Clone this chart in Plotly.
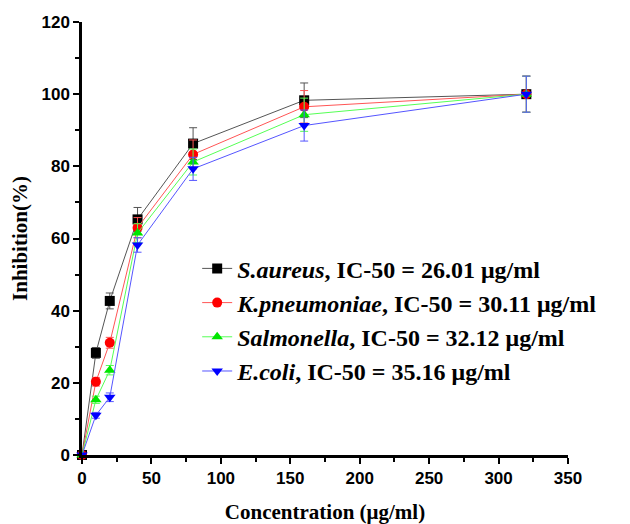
import plotly.graph_objects as go

conc = [0, 10, 20, 40, 80, 160, 320]
s_aureus = [0, 28.3, 42.7, 65.3, 86.3, 98.3, 100]
k_pneu = [0, 20.3, 31.1, 63.0, 83.3, 96.5, 100]
salmonella = [0, 15.3, 23.5, 61.5, 81.2, 94.3, 100]
e_coli = [0, 11.0, 16.0, 58.2, 79.3, 91.3, 100]

err_s = [0, 1.5, 2.2, 3.3, 4.4, 4.8, 5.0]
err_k = [0, 1.2, 1.5, 2.8, 4.0, 4.5, 5.0]
err_sal = [0, 1.0, 1.3, 2.6, 3.6, 4.6, 5.0]
err_e = [0, 0.8, 1.2, 2.0, 3.2, 4.3, 5.0]

names = ["<i>S.aureus</i>, IC-50 = 26.01 μg/ml",
         "<i>K.pneumoniae</i>, IC-50 = 30.11 μg/ml",
         "<i>Salmonella</i>, IC-50 = 32.12 μg/ml",
         "<i>E.coli</i>, IC-50 = 35.16 μg/ml"]
series = [s_aureus, k_pneu, salmonella, e_coli]
errs = [err_s, err_k, err_sal, err_e]
colors = ["#000000", "#ff0000", "#00e600", "#0000ff"]
linecolors = ["#555555", "#ff5555", "#55ff55", "#5555ff"]
symbols = ["square", "circle", "triangle-up", "triangle-down"]

fig = go.Figure()
for n, y, e, c, lc, s in zip(names, series, errs, colors, linecolors, symbols):
    fig.add_trace(go.Scatter(
        x=conc, y=y, name=n, mode="lines+markers",
        line=dict(color=lc, width=1),
        marker=dict(symbol=s, size=10, color=c),
        error_y=dict(type="data", array=e, color=lc, thickness=1, width=4),
        cliponaxis=False,
    ))

axis_font = dict(family="Liberation Sans", size=17, color="black", weight="bold")
title_font = dict(family="Liberation Serif", size=21, color="black", weight="bold")

fig.update_layout(
    width=622, height=516,
    margin=dict(l=74, r=62, t=14, b=69),
    plot_bgcolor="white", paper_bgcolor="white",
    showlegend=True,
    legend=dict(x=0.237, y=0.482, xanchor="left", yanchor="top",
                font=dict(family="Liberation Serif", size=24, color="black", weight="bold"),
                bgcolor="rgba(0,0,0,0)"),
    xaxis=dict(range=[0, 350], tickvals=[0, 50, 100, 150, 200, 250, 300, 350],
               showgrid=False, zeroline=False, showline=True, linecolor="black", linewidth=2.5,
               ticks="outside", ticklen=6, tickwidth=2, tickcolor="black",
               minor=dict(dtick=25, ticks="outside", ticklen=4, tickwidth=2, tickcolor="black", showgrid=False),
               tickfont=axis_font, automargin=False,
               title=dict(text="Concentration (μg/ml)", font=title_font, standoff=24)),
    yaxis=dict(range=[0, 120], tickvals=[0, 20, 40, 60, 80, 100, 120],
               showgrid=False, zeroline=False, showline=True, linecolor="black", linewidth=2.5,
               ticks="outside", ticklen=6, tickwidth=2, tickcolor="black",
               minor=dict(dtick=10, ticks="outside", ticklen=4, tickwidth=2, tickcolor="black", showgrid=False),
               tickfont=axis_font, automargin=False,
               title=dict(text="Inhibition(%)", font=title_font, standoff=12)),
)

fig.write_html("out.html")
